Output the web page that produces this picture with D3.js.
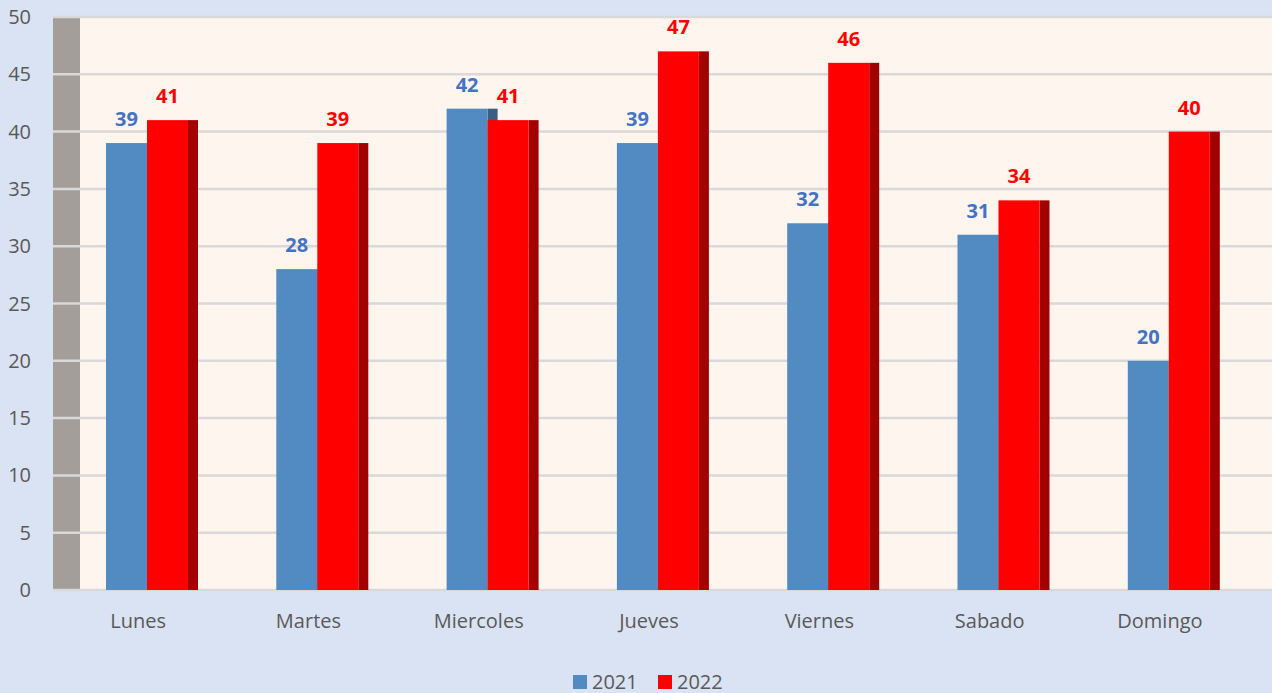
<!DOCTYPE html>
<html>
<head>
<meta charset="utf-8">
<script src="https://cdn.jsdelivr.net/npm/d3@7.9.0/dist/d3.min.js"></script>
<style>
  html, body { margin: 0; padding: 0; background: #dae3f3; }
  svg { display: block; font-family: "Open Sans", "Noto Sans", sans-serif; }
</style>
</head>
<body>
<svg width="1272" height="693"></svg>
<script>
// Chart data
const days = ['Lunes', 'Martes', 'Miercoles', 'Jueves', 'Viernes', 'Sabado', 'Domingo'];
const values2021 = [39, 28, 42, 39, 32, 31, 20];
const values2022 = [41, 39, 41, 47, 46, 34, 40];
const yTicks = [0, 5, 10, 15, 20, 25, 30, 35, 40, 45, 50];
const seriesNames = ['2021', '2022'];

const svg = d3.select('svg');
const W = 1272, H = 693;

// plot geometry
const front = 53, wall = 27, plotTop = 17, plotBottom = 590;
const x = d3.scaleBand().domain(days).range([front, front + 7 * 170.3]);
const y = d3.scaleLinear().domain([0, 50]).range([plotBottom, plotTop]);

const blue = '#518bc1', blueSide = '#3a5f82';
const red = '#ff0000', redSide = '#a30000';
const barW = 41, depth = 10, offset = 53;

// back wall + side wall
svg.append('rect').attr('x', front + wall).attr('y', plotTop).attr('width', W - front - wall).attr('height', plotBottom - plotTop).attr('fill', '#fef5ee');
svg.append('rect').attr('x', front).attr('y', plotTop).attr('width', wall).attr('height', plotBottom - plotTop).attr('fill', '#a39e9a');

// gridlines
svg.append('g').selectAll('line').data(yTicks).join('line')
  .attr('x1', front).attr('x2', W)
  .attr('y1', d => y(d)).attr('y2', d => y(d))
  .attr('stroke', '#d9d9d9').attr('stroke-width', 2.5);

// y labels
svg.append('g').selectAll('text').data(yTicks).join('text')
  .attr('x', 31).attr('y', d => y(d)).attr('dy', '0.35em')
  .attr('text-anchor', 'end').attr('fill', '#595959').attr('font-size', 20)
  .text(d => d);

// bars
const groups = svg.append('g').selectAll('g').data(days).join('g')
  .attr('transform', d => `translate(${x(d) + offset},0)`);

// 2021 side then front
groups.append('rect').attr('x', barW).attr('width', depth)
  .attr('y', (d, i) => y(values2021[i])).attr('height', (d, i) => plotBottom - y(values2021[i]))
  .attr('fill', blueSide);
groups.append('rect').attr('x', 0).attr('width', barW)
  .attr('y', (d, i) => y(values2021[i])).attr('height', (d, i) => plotBottom - y(values2021[i]))
  .attr('fill', blue);
// 2022
groups.append('rect').attr('x', 2 * barW).attr('width', depth)
  .attr('y', (d, i) => y(values2022[i])).attr('height', (d, i) => plotBottom - y(values2022[i]))
  .attr('fill', redSide);
groups.append('rect').attr('x', barW).attr('width', barW)
  .attr('y', (d, i) => y(values2022[i])).attr('height', (d, i) => plotBottom - y(values2022[i]))
  .attr('fill', red);

// value labels
groups.append('text').attr('x', barW / 2).attr('y', (d, i) => y(values2021[i]) - 17)
  .attr('text-anchor', 'middle').attr('font-weight', 'bold').attr('font-size', 20)
  .attr('fill', '#4472c4').text((d, i) => values2021[i]);
groups.append('text').attr('x', barW * 1.5).attr('y', (d, i) => y(values2022[i]) - 17)
  .attr('text-anchor', 'middle').attr('font-weight', 'bold').attr('font-size', 20)
  .attr('fill', '#ff0000').text((d, i) => values2022[i]);

// category labels
svg.append('g').selectAll('text').data(days).join('text')
  .attr('x', d => x(d) + x.bandwidth() / 2).attr('y', 628)
  .attr('text-anchor', 'middle').attr('fill', '#595959').attr('font-size', 20)
  .text(d => d);

// legend
const legend = svg.append('g');
const legendX = [573, 658];
const legendColors = [blue, red];
seriesNames.forEach((name, i) => {
  legend.append('rect').attr('x', legendX[i]).attr('y', 675).attr('width', 14).attr('height', 14).attr('fill', legendColors[i]);
  legend.append('text').attr('x', legendX[i] + 19).attr('y', 682).attr('dy', '0.35em')
    .attr('fill', '#595959').attr('font-size', 20).text(name);
});
</script>
</body>
</html>
